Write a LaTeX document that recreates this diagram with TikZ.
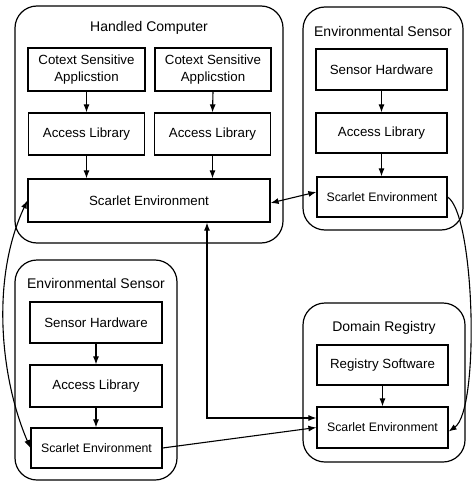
\documentclass[tikz,border=0pt]{standalone}
\usepackage{fontspec}
\setmainfont{Liberation Sans}
\usetikzlibrary{arrows.meta}
\begin{document}
\begin{tikzpicture}[x=1pt,y=-1pt,
  group/.style={draw, line width=1.2pt, rounded corners=22pt, inner sep=0pt},
  stepbox/.style={draw, line width=1.2pt, inner sep=0pt, align=center,
    font=\fontsize{13.3}{17}\selectfont},
  smallbox/.style={stepbox, font=\fontsize{12.3}{15}\selectfont},
  grouptitle/.style={inner sep=0pt, font=\fontsize{14}{17}\selectfont},
  tip/.style={line width=1.1pt, -{Latex[length=8pt,width=6pt]}},
  twotip/.style={line width=1.1pt, {Latex[length=8pt,width=6pt]}-{Latex[length=8pt,width=6pt]}},
]
\useasboundingbox (0,0) rectangle (475,484);

% Handheld computer group
\node[group, minimum width=268pt, minimum height=237pt] (hc) at (149,124.5) {};
\node[grouptitle] (hctitle) at (149,28) {Handled Computer};
\node[stepbox, minimum width=117pt, minimum height=43pt] (csa1) at (86.5,69.5) {Cotext Sensitive\\Applicstion};
\node[stepbox, minimum width=116pt, minimum height=43pt] (csa2) at (213,69.5) {Cotext Sensitive\\Applicstion};
\node[stepbox, minimum width=116pt, minimum height=42pt] (al1) at (86.5,134) {Access Library};
\node[stepbox, minimum width=116pt, minimum height=42pt] (al2) at (212.5,134) {Access Library};
\node[stepbox, minimum width=242pt, minimum height=43pt] (hcs) at (149,200.5) {Scarlet Environment};
\draw[tip] (csa1.south) -- (al1.north);
\draw[tip] (csa2.south) -- (al2.north);
\draw[tip] (al1.south) -- (al1.south |- hcs.north);
\draw[tip] (al2.south) -- (al2.south |- hcs.north);

% Environmental sensor, top right
\node[group, minimum width=160pt, minimum height=223pt] (es1) at (383,118.5) {};
\node[grouptitle] (es1title) at (383,31) {Environmental Sensor};
\node[stepbox, minimum width=131pt, minimum height=41pt] (tsh) at (381.5,69.5) {Sensor Hardware};
\node[stepbox, minimum width=131pt, minimum height=40pt] (tal) at (381.5,133) {Access Library};
\node[smallbox, minimum width=130pt, minimum height=40pt] (tse) at (382,197) {Scarlet Environment};
\draw[tip] (tsh.south) -- (tal.north);
\draw[tip] (tal.south) -- (tal.south |- tse.north);

% Environmental sensor, bottom left
\node[group, minimum width=162pt, minimum height=220pt] (es2) at (96,370) {};
\node[grouptitle] (es2title) at (96,283) {Environmental Sensor};
\node[stepbox, minimum width=132pt, minimum height=41pt] (bsh) at (96,322.5) {Sensor Hardware};
\node[stepbox, minimum width=132pt, minimum height=42pt] (bal) at (96,386) {Access Library};
\node[smallbox, minimum width=131pt, minimum height=40pt] (bse) at (96.5,448) {Scarlet Environment};
\draw[tip] (bsh.south) -- (bal.north);
\draw[tip] (bal.south) -- (bal.south |- bse.north);

% Domain registry
\node[group, minimum width=162pt, minimum height=159pt] (dr) at (384,382.5) {};
\node[grouptitle] (drtitle) at (384,328) {Domain Registry};
\node[stepbox, minimum width=131pt, minimum height=40pt] (drs) at (382.5,365) {Registry Software};
\node[smallbox, minimum width=131pt, minimum height=41pt] (dse) at (382.5,427.5) {Scarlet Environment};
\draw[tip] (drs.south) -- (dse.north);

% Links between the Scarlet environments
\draw[twotip] ([yshift=-2.5pt]hcs.east) -- ([yshift=5pt]tse.west);
\draw[twotip] ([xshift=58pt]hcs.south) |- ([yshift=9.5pt]dse.west);
\draw[tip] (bse.east) -- (dse.west);
\draw[tip] (tse.east) .. controls (475,215) and (480,410) .. ([yshift=-4pt]dse.east);
\draw[twotip] (hcs.west) .. controls (-10,280) and (1,380) .. (bse.west);
\end{tikzpicture}
\end{document}
